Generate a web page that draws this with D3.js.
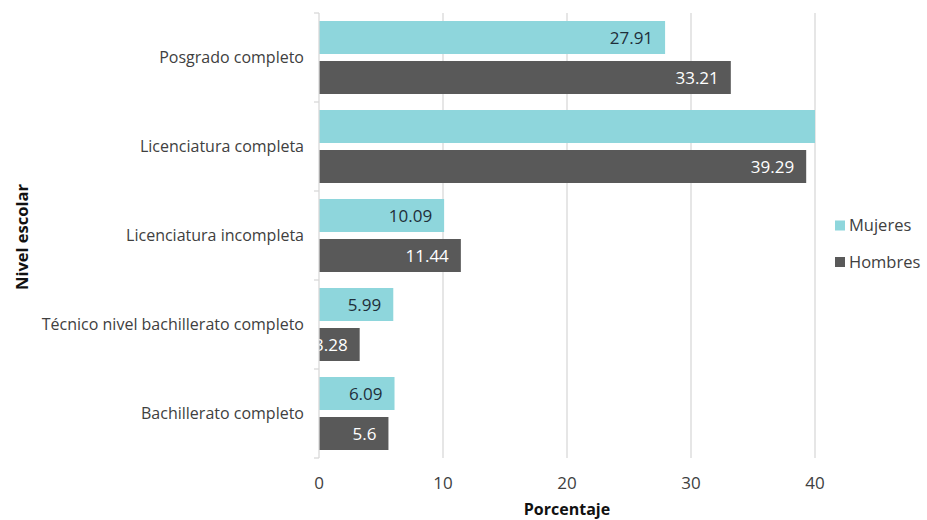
<!DOCTYPE html>
<html><head><meta charset="utf-8">
<script src="https://cdn.jsdelivr.net/npm/d3@7"></script>
<style>body{margin:0;background:#fff;} text{font-family:"Open Sans",sans-serif;}</style>
</head><body><svg id="c" width="927" height="520"></svg>
<script>
const categories = ["Posgrado completo","Licenciatura completa","Licenciatura incompleta","Técnico nivel bachillerato completo","Bachillerato completo"];
const mujeres = [27.91, 44.5, 10.09, 5.99, 6.09];
const hombres = [33.21, 39.29, 11.44, 3.28, 5.6];
const seriesNames = ["Mujeres","Hombres"];
const colors = ["#8ED6DC","#595959"];
const labelColors = ["#1f2f3a","#ffffff"];
const xTicks = [0,10,20,30,40];

const svg = d3.select("#c");
const m = {left:319, right:815, top:13, bottom:458};
const x = d3.scaleLinear().domain([0,40]).range([m.left,m.right]);
const y = d3.scaleBand().domain(categories).range([m.top,m.bottom]);
const inner = d3.scaleBand().domain(seriesNames).range([0,y.bandwidth()]).paddingInner(0.175).paddingOuter(0.2);

// gridlines
svg.append("g").selectAll("line").data(xTicks.slice(1)).join("line")
  .attr("x1",d=>x(d)).attr("x2",d=>x(d)).attr("y1",m.top).attr("y2",m.bottom)
  .attr("stroke","#d9d9d9").attr("stroke-width",1.3);

// bars
const data = [];
categories.forEach((c,i)=>{data.push({c,s:"Mujeres",v:mujeres[i],k:0});data.push({c,s:"Hombres",v:hombres[i],k:1});});
svg.append("g").selectAll("rect").data(data).join("rect")
  .attr("x",x(0)).attr("y",d=>y(d.c)+inner(d.s))
  .attr("width",d=>x(Math.min(d.v,40))-x(0)).attr("height",inner.bandwidth())
  .attr("fill",d=>colors[d.k]);

svg.append("g").selectAll("text").data(data.filter(d=>d.v<=40)).join("text")
  .attr("x",d=>x(d.v)-12).attr("y",d=>y(d.c)+inner(d.s)+inner.bandwidth()/2)
  .attr("dy","0.36em").attr("text-anchor","end").attr("font-size",17)
  .attr("fill",d=>labelColors[d.k]).text(d=>d.v);

// y axis line and ticks
const ya = svg.append("g");
ya.append("line").attr("x1",m.left).attr("x2",m.left).attr("y1",m.top).attr("y2",m.bottom).attr("stroke","#d9d9d9").attr("stroke-width",1.3);
const seps = categories.map(c=>y(c)).concat([m.bottom]);
ya.selectAll("line.t").data(seps).join("line").attr("class","t")
  .attr("x1",m.left-5).attr("x2",m.left).attr("y1",d=>d).attr("y2",d=>d).attr("stroke","#d9d9d9").attr("stroke-width",1.3);
ya.selectAll("text").data(categories).join("text")
  .attr("x",m.left-15).attr("y",d=>y(d)+y.bandwidth()/2).attr("dy","0.36em")
  .attr("text-anchor","end").attr("font-size",16).attr("fill","#404040").text(d=>d);

// x tick labels
svg.append("g").selectAll("text").data(xTicks).join("text")
  .attr("x",d=>x(d)).attr("y",489).attr("text-anchor","middle").attr("font-size",17).attr("fill","#404040").text(d=>d);

svg.append("text").attr("x",x(20)).attr("y",515).attr("text-anchor","middle").attr("font-size",16).attr("font-weight","bold").attr("fill","#111").text("Porcentaje");
svg.append("text").attr("transform","translate(28,237) rotate(-90)").attr("text-anchor","middle").attr("font-size",16.5).attr("font-weight","bold").attr("fill","#111").text("Nivel escolar");

// legend
const lg = svg.append("g");
seriesNames.forEach((s,i)=>{
  const yy = 225.5 + i*36.5;
  lg.append("rect").attr("x",835).attr("y",yy-5).attr("width",10).attr("height",10).attr("fill",colors[i]);
  lg.append("text").attr("x",849).attr("y",yy).attr("dy","0.36em").attr("font-size",16.5).attr("fill","#404040").text(s);
});
</script></body></html>
